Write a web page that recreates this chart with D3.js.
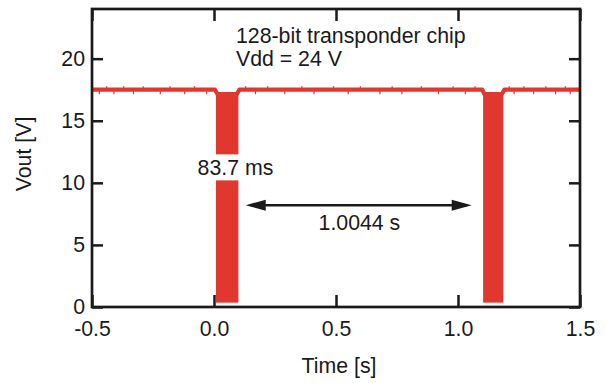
<!DOCTYPE html>
<html><head><meta charset="utf-8">
<script src="https://cdn.jsdelivr.net/npm/d3@7/dist/d3.min.js"></script>
<style>
html,body{margin:0;padding:0;background:#fff;}
svg{display:block;}
text{font-family:"Liberation Sans",Arial,sans-serif;fill:#1a1a1a;}
</style></head>
<body>
<svg id="chart" width="607" height="383"></svg>
<script>
// ---- data ----
const xTicks = [-0.5, 0.0, 0.5, 1.0, 1.5];
const xTickLabels = ["-0.5", "0.0", "0.5", "1.0", "1.5"];
const yTicks = [0, 5, 10, 15, 20];
// envelope of the baseline signal (time s, Vout V)
const signalT = [-0.5, 0.004, 0.014, 0.094, 0.104, 1.099, 1.108, 1.180, 1.190, 1.5];
const signalV = [17.5, 17.5, 17.15, 17.15, 17.5, 17.5, 17.15, 17.15, 17.5, 17.5];
// modulation bursts
const burstStart = [0.008, 1.103];
const burstEnd = [0.100, 1.186];
const burstTop = [17.15, 17.15];
const burstBottom = [0.35, 0.35];
// small glitches on the baseline
const glitchDownT = [-0.47, -0.41, -0.33, -0.22, -0.12, -0.03, 0.17, 0.29, 0.41, 0.55, 0.68, 0.77, 0.92, 1.03, 1.23, 1.31, 1.40, 1.46];
const glitchUpT = [-0.44, -0.37, -0.29, -0.18, -0.08, 0.13, 0.22, 0.36, 0.49, 0.60, 0.73, 0.85, 0.98, 1.07, 1.21, 1.27, 1.36, 1.44];
// annotation values
const periodStart = 0.13, periodEnd = 1.056, periodLevel = 8.2;
const periodLabel = "1.0044 s";
const burstLabel = "83.7 ms";
const infoLines = ["128-bit transponder chip", "Vdd = 24 V"];

// ---- layout ----
const FS = 21.3;
const svg = d3.select("#chart");
const L = 92, R = 580, T = 9, B = 307;
const x = d3.scaleLinear().domain([-0.5, 1.5]).range([L, R]);
const y = d3.scaleLinear().domain([0, 24]).range([B, T]);
const ink = "#1a1a1a", red = "#e0382e";

// signal baseline
const sig = signalT.map((t, i) => [t, signalV[i]]);
svg.append("path")
  .attr("d", d3.line().x(d => x(d[0])).y(d => y(d[1]))(sig))
  .attr("fill", "none").attr("stroke", red).attr("stroke-width", 4.2)
  .attr("stroke-linejoin", "round");
svg.selectAll(".gd").data(glitchDownT).join("line")
  .attr("x1", d => x(d)).attr("x2", d => x(d))
  .attr("y1", y(17.5)).attr("y2", y(17.5) + 4.5)
  .attr("stroke", red).attr("stroke-width", 1.2);
svg.selectAll(".gu").data(glitchUpT).join("line")
  .attr("x1", d => x(d)).attr("x2", d => x(d))
  .attr("y1", y(17.5)).attr("y2", y(17.5) - 3.5)
  .attr("stroke", red).attr("stroke-width", 1.2);

// bursts
svg.selectAll(".burst").data(burstStart).join("rect")
  .attr("x", (d) => x(d))
  .attr("width", (d, i) => x(burstEnd[i]) - x(d))
  .attr("y", (d, i) => y(burstTop[i]))
  .attr("height", (d, i) => y(burstBottom[i]) - y(burstTop[i]))
  .attr("fill", red);

// axes (inward ticks on all sides)
const gx = svg.append("g").attr("transform", `translate(0,${B})`)
  .call(d3.axisBottom(x).tickValues(xTicks).tickFormat((d, i) => xTickLabels[i])
    .tickSizeInner(-12).tickSizeOuter(0).tickPadding(14));
const gy = svg.append("g").attr("transform", `translate(${L},0)`)
  .call(d3.axisLeft(y).tickValues(yTicks).tickFormat(d3.format("d"))
    .tickSizeInner(-11).tickSizeOuter(0).tickPadding(7));
const gt = svg.append("g").attr("transform", `translate(0,${T})`)
  .call(d3.axisTop(x).tickValues(xTicks).tickFormat("").tickSizeInner(-12).tickSizeOuter(0));
const gr = svg.append("g").attr("transform", `translate(${R},0)`)
  .call(d3.axisRight(y).tickValues(yTicks).tickFormat("").tickSizeInner(-11).tickSizeOuter(0));
[gx, gy, gt, gr].forEach(g => {
  g.select(".domain").remove();
  g.selectAll(".tick line").attr("stroke", ink).attr("stroke-width", 2.5);
  g.selectAll(".tick text").attr("font-size", FS).attr("fill", ink)
    .style("font-family", "'Liberation Sans', Arial, sans-serif");
});

// frame
svg.append("rect").attr("x", L).attr("y", T).attr("width", R - L).attr("height", B - T)
  .attr("fill", "none").attr("stroke", ink).attr("stroke-width", 2.7);

// axis titles
svg.append("text").attr("x", (L + R) / 2 + 3).attr("y", 373).attr("text-anchor", "middle")
  .attr("font-size", FS).text("Time [s]");
svg.append("text").attr("transform", `translate(31,${(T + B) / 2 - 4}) rotate(-90)`)
  .attr("text-anchor", "middle").attr("font-size", FS).text("Vout [V]");

// info text
svg.selectAll(".info").data(infoLines).join("text")
  .attr("x", x(0.09)).attr("y", (d, i) => y(21.3) + i * 23)
  .attr("font-size", FS).text(d => d);

// burst label with white background
const bl = svg.append("g");
const blt = bl.append("text").attr("x", x(0.088)).attr("y", y(10.6))
  .attr("text-anchor", "middle").attr("font-size", FS).text(burstLabel);
const bb = blt.node().getBBox();
bl.insert("rect", "text").attr("x", bb.x - 2).attr("y", y(10.6) - 21)
  .attr("width", bb.width + 4).attr("height", 26).attr("fill", "#fff");

// period arrow
const ay = y(periodLevel), ax1 = x(periodStart), ax2 = x(periodEnd);
const headL = 20, headW = 5.5;
svg.append("line").attr("x1", ax1 + 5).attr("x2", ax2 - 5).attr("y1", ay).attr("y2", ay)
  .attr("stroke", ink).attr("stroke-width", 2.5);
svg.append("path").attr("d", `M${ax1},${ay} L${ax1 + headL},${ay - headW} L${ax1 + headL},${ay + headW} Z`).attr("fill", ink);
svg.append("path").attr("d", `M${ax2},${ay} L${ax2 - headL},${ay - headW} L${ax2 - headL},${ay + headW} Z`).attr("fill", ink);
svg.append("text").attr("x", x(0.596)).attr("y", y(6.2)).attr("text-anchor", "middle")
  .attr("font-size", FS).text(periodLabel);
</script>
</body></html>
